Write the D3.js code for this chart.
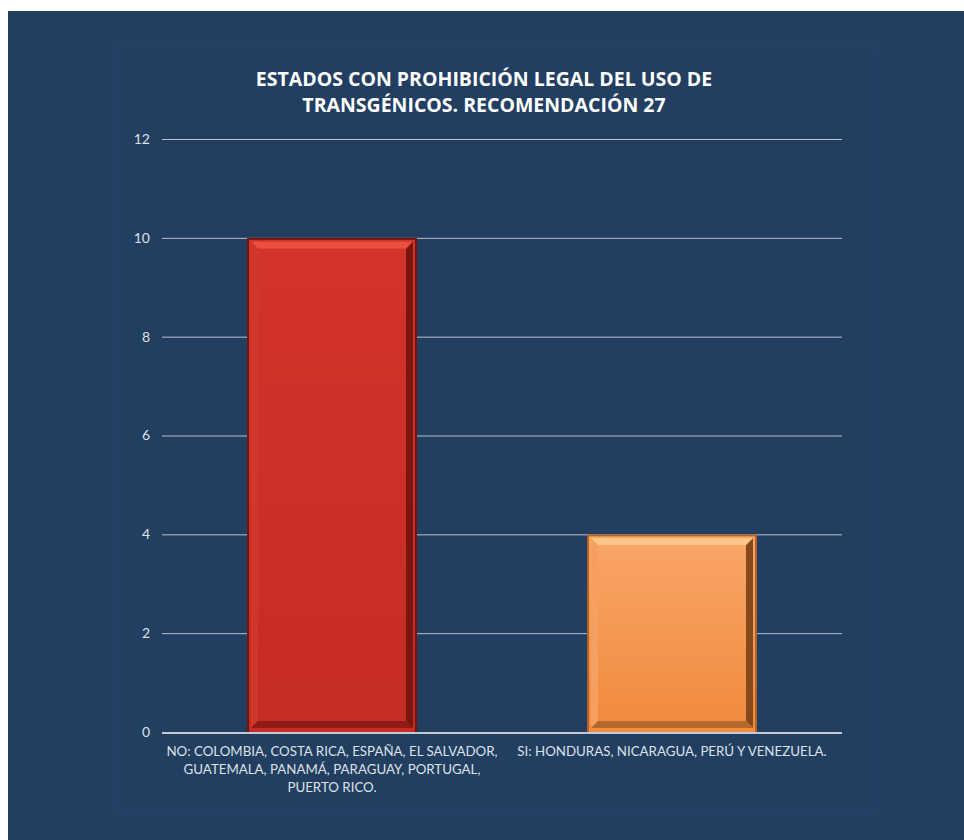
<!DOCTYPE html>
<html>
<head>
<meta charset="utf-8">
<script src="https://cdn.jsdelivr.net/npm/d3@7/dist/d3.min.js"></script>
<style>
  html, body { margin: 0; padding: 0; background: #ffffff; }
  svg { display: block; }
</style>
</head>
<body>
<svg id="chart" width="964" height="840"></svg>
<script>
// Chart data
const titleLines = ["ESTADOS CON PROHIBICIÓN LEGAL DEL USO DE", "TRANSGÉNICOS. RECOMENDACIÓN 27"];
const categories = [
  "NO: COLOMBIA, COSTA RICA, ESPAÑA, EL SALVADOR, GUATEMALA, PANAMÁ, PARAGUAY, PORTUGAL, PUERTO RICO.",
  "SI: HONDURAS, NICARAGUA, PERÚ Y VENEZUELA."
];
const values = [10, 4];
const yTicks = [0, 2, 4, 6, 8, 10, 12];

const W = 964, H = 840;
const margin = { left: 162, right: 122, top: 139, bottom: 108 };
const svg = d3.select("#chart");
const font = "Lato, 'Open Sans', sans-serif";

// Colour schemes for each bar
const palettes = [
  { top: "#d2332a", bottom: "#c52c25", hiTop: "#e9503e", hiLeft: "#cf372c", loRight: "#7a1610", loBottom: "#8e1c15", edge: "#701410" },
  { top: "#f8a568", bottom: "#f28b3e", hiTop: "#fcc88a", hiLeft: "#f5a061", loRight: "#86491b", loBottom: "#b4682a", edge: "#b06428" }
];

// Background panel
svg.append("rect").attr("x", 8).attr("y", 11).attr("width", W - 8).attr("height", H - 11).attr("fill", "#233f62");
// Faint plot-area panel
svg.append("rect").attr("x", 118).attr("y", 48).attr("width", 757).attr("height", 762)
  .attr("fill", "#223e61").attr("stroke", "#27436a").attr("stroke-width", 1);

const x = d3.scaleBand().domain(categories).range([margin.left, W - margin.right]).paddingInner(0).paddingOuter(0);
const y = d3.scaleLinear().domain([0, 12]).range([H - margin.bottom, margin.top]);

// Title
const title = svg.append("text").attr("text-anchor", "middle")
  .attr("font-family", "'Open Sans', sans-serif").attr("font-weight", "bold")
  .attr("font-size", 19.5).attr("fill", "#ffffff");
titleLines.forEach((t, i) => {
  title.append("tspan").attr("x", 484).attr("y", 86 + i * 26).text(t);
});

// Gridlines
svg.append("g").selectAll("line").data(yTicks.filter(d => d > 0)).join("line")
  .attr("x1", margin.left).attr("x2", W - margin.right)
  .attr("y1", d => y(d) + 0.5).attr("y2", d => y(d) + 0.5)
  .attr("stroke", "#b9c1cc").attr("stroke-width", 1);

// Y axis labels
const yAxis = svg.append("g").attr("transform", `translate(${margin.left},0)`)
  .call(d3.axisLeft(y).tickValues(yTicks).tickSize(0).tickPadding(12).tickFormat(d3.format("d")));
yAxis.select(".domain").remove();
yAxis.selectAll("text").attr("font-family", font).attr("font-size", 14).attr("fill", "#dde2e8");

// Bars with bevelled edges
const bw = x.bandwidth() * 0.5;
const defs = svg.append("defs");
palettes.forEach((p, i) => {
  const g = defs.append("linearGradient").attr("id", "grad" + i).attr("x1", 0).attr("y1", 0).attr("x2", 0).attr("y2", 1);
  g.append("stop").attr("offset", "0%").attr("stop-color", p.top);
  g.append("stop").attr("offset", "100%").attr("stop-color", p.bottom);
});

const bars = svg.append("g").selectAll("g").data(values).join("g");
bars.each(function(v, i) {
  const g = d3.select(this);
  const p = palettes[i];
  const x0 = x(categories[i]) + (x.bandwidth() - bw) / 2;
  const x1 = x0 + bw;
  const y0 = y(v);
  const y1 = y(0);
  const o = 4;   // outer frame
  const b = 7;   // bevel depth
  g.append("rect").attr("x", x0).attr("y", y0).attr("width", bw).attr("height", y1 - y0).attr("fill", p.edge);
  g.append("rect").attr("x", x0 + 2).attr("y", y0 + 2).attr("width", bw - 4).attr("height", y1 - y0 - 2).attr("fill", `url(#grad${i})`);
  const ix0 = x0 + o, ix1 = x1 - o, iy0 = y0 + o, iy1 = y1 - o;
  const poly = pts => pts.map(q => q.join(",")).join(" ");
  // top bevel
  g.append("polygon").attr("points", poly([[ix0, iy0], [ix1, iy0], [ix1 - b, iy0 + b], [ix0 + b, iy0 + b]]))
    .attr("fill", p.hiTop);
  // left bevel
  g.append("polygon").attr("points", poly([[ix0, iy0], [ix0 + b, iy0 + b], [ix0 + b, iy1 - b], [ix0, iy1]]))
    .attr("fill", p.hiLeft);
  // right bevel
  g.append("polygon").attr("points", poly([[ix1, iy0], [ix1, iy1], [ix1 - b, iy1 - b], [ix1 - b, iy0 + b]]))
    .attr("fill", p.loRight);
  // bottom bevel
  g.append("polygon").attr("points", poly([[ix0, iy1], [ix0 + b, iy1 - b], [ix1 - b, iy1 - b], [ix1, iy1]]))
    .attr("fill", p.loBottom);
  // inner face
  g.append("rect").attr("x", ix0 + b).attr("y", iy0 + b).attr("width", ix1 - ix0 - 2 * b).attr("height", iy1 - iy0 - 2 * b)
    .attr("fill", `url(#grad${i})`);
});

// Baseline
svg.append("line").attr("x1", margin.left).attr("x2", W - margin.right)
  .attr("y1", y(0) + 1).attr("y2", y(0) + 1).attr("stroke", "#c3c9d2").attr("stroke-width", 2);

// Category labels, wrapped to the band width
const xAxis = svg.append("g").attr("transform", `translate(0,${y(0)})`)
  .call(d3.axisBottom(x).tickSize(0).tickPadding(0));
xAxis.select(".domain").remove();
xAxis.selectAll("text").attr("font-family", font).attr("font-size", 13.3).attr("fill", "#dde2e8")
  .each(function(d) {
    const t = d3.select(this);
    const words = d.split(" ");
    t.text(null);
    const maxW = x.bandwidth() - 4;
    let line = [], lines = [];
    const probe = t.append("tspan");
    words.forEach(w => {
      const test = line.concat(w).join(" ");
      probe.text(test);
      if (probe.node().getComputedTextLength() > maxW && line.length) {
        lines.push(line.join(" "));
        line = [w];
      } else line = test.split(" ");
    });
    lines.push(line.join(" "));
    probe.remove();
    t.attr("dy", null);
    lines.forEach((l, k) => {
      t.append("tspan").attr("x", 0).attr("y", 24 + k * 18).text(l);
    });
  });
</script>
</body>
</html>
